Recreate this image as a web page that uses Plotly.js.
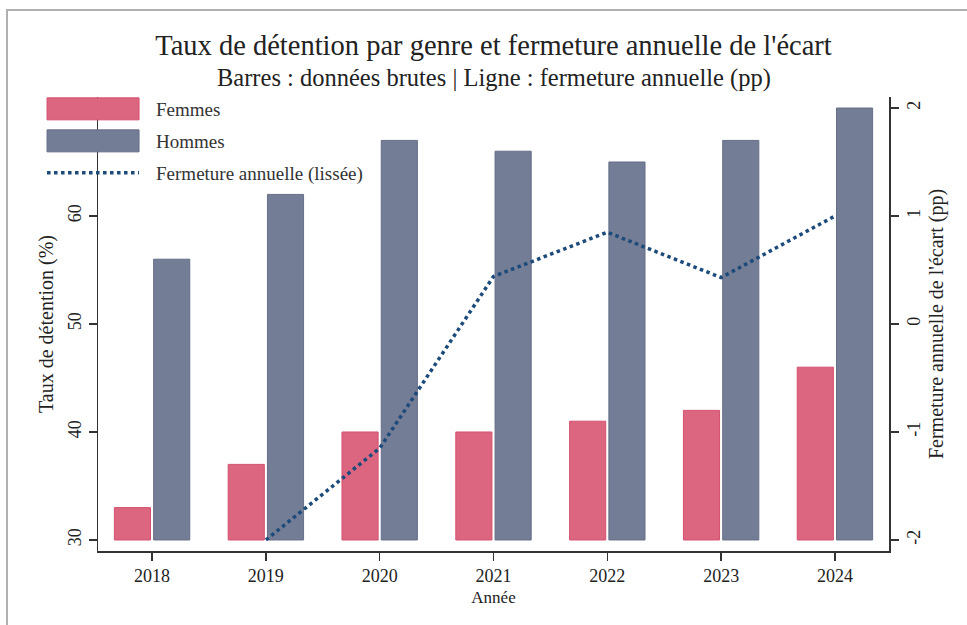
<!DOCTYPE html>
<html>
<head>
<meta charset="utf-8">
<script src="https://cdn.plot.ly/plotly-3.0.1.min.js"></script>
<style>
  html, body { margin: 0; padding: 0; background: #fff; }
  #frame { position: absolute; left: 6px; top: 9px; width: 961px; height: 616px;
           border-left: 2px solid #b0b0b0; border-top: 2px solid #b0b0b0; box-sizing: border-box; }
  #chart { position: absolute; left: 0; top: 0; width: 967px; height: 625px; }
</style>
</head>
<body>
<div id="frame"></div>
<div id="chart"></div>
<script>
const years = [2018, 2019, 2020, 2021, 2022, 2023, 2024];
const femmes = [33, 37, 40, 40, 41, 42, 46];
const hommes = [56, 62, 67, 66, 65, 67, 70];
const fermeture = [null, -2, -1.15, 0.44, 0.85, 0.43, 1.0];
const leftTicks = [30, 40, 50, 60];
const rightTicks = [-2, -1, 0, 1, 2];
const barBase = 30;

const serif = 'Liberation Serif, Times New Roman, serif';

const traces = [
  {
    type: 'bar', name: 'Femmes', x: years, legendgroup: 'a',
    y: femmes.map(v => v - barBase), base: barBase,
    marker: { color: '#dc6680', line: { color: '#d4506e', width: 1 } },
    yaxis: 'y', hoverinfo: 'skip'
  },
  {
    type: 'bar', name: 'Hommes', x: years, legendgroup: 'b',
    y: hommes.map(v => v - barBase), base: barBase,
    marker: { color: '#737d96', line: { color: '#666f88', width: 1 } },
    yaxis: 'y', hoverinfo: 'skip'
  },
  {
    type: 'scatter', mode: 'lines', name: 'Fermeture annuelle (lissée)', legendgroup: 'c',
    x: years, y: fermeture, yaxis: 'y2',
    line: { color: '#1c4a7a', width: 3.5, dash: 'dot' },
    connectgaps: false
  }
];

const layout = {
  width: 967, height: 625,
  margin: { l: 98, r: 78, t: 97, b: 74 },
  paper_bgcolor: 'rgba(0,0,0,0)', plot_bgcolor: 'rgba(0,0,0,0)',
  font: { family: serif, color: '#222', size: 18 },
  title: {
    text: "Taux de détention par genre et fermeture annuelle de l'écart",
    font: { family: serif, size: 28.5, color: '#222' },
    x: 0.5, xref: 'paper', xanchor: 'center', y: 1 - 45 / 625, yref: 'container', yanchor: 'middle'
  },
  annotations: [{
    text: 'Barres : données brutes | Ligne : fermeture annuelle (pp)',
    xref: 'paper', yref: 'paper', x: 0.5, y: (551 - 78) / 454,
    xanchor: 'center', yanchor: 'middle', showarrow: false,
    font: { family: serif, size: 24.5, color: '#222' }
  }],
  barmode: 'group', bargap: 0.31, bargroupgap: 0.08,
  showlegend: true,
  legend: {
    x: -0.0657, xanchor: 'left', y: 1.0154, yanchor: 'top',
    bgcolor: 'rgba(0,0,0,0)', font: { family: serif, size: 19, color: '#333' },
    itemwidth: 100, tracegroupgap: 11, traceorder: 'normal'
  },
  xaxis: {
    range: [2017.525, 2024.475], tickvals: years, ticktext: years.map(String),
    showline: true, linecolor: '#333', linewidth: 1.5, mirror: false,
    ticks: 'outside', ticklen: 8, tickcolor: '#333', tickwidth: 1.5,
    showgrid: false, zeroline: false, ticklabelstandoff: 0,
    tickfont: { family: serif, size: 18, color: '#222' },
    title: { text: 'Année', font: { family: serif, size: 17, color: '#222' }, standoff: 0 }
  },
  yaxis: {
    range: [28.98, 71.02], tickvals: leftTicks, ticktext: leftTicks.map(String),
    showline: true, linecolor: '#333', linewidth: 1.5,
    ticks: 'outside', ticklen: 8, tickcolor: '#333', tickwidth: 1.5,
    showgrid: false, zeroline: false, tickangle: 270, ticklabelstandoff: 0.5,
    tickfont: { family: serif, size: 18, color: '#222' },
    title: { text: 'Taux de détention (%)', font: { family: serif, size: 20, color: '#222' }, standoff: 6 }
  },
  yaxis2: {
    overlaying: 'y', side: 'right',
    range: [-2.102, 2.102], tickvals: rightTicks, ticktext: rightTicks.map(String),
    showline: true, linecolor: '#333', linewidth: 1.5,
    ticks: 'outside', ticklen: 8, tickcolor: '#333', tickwidth: 1.5,
    showgrid: false, zeroline: false, tickangle: -90,
    tickfont: { family: serif, size: 18, color: '#222' },
    title: { text: "Fermeture annuelle de l'écart (pp)", font: { family: serif, size: 20, color: '#222' }, standoff: 6 }
  }
};

Plotly.newPlot('chart', traces, layout, { staticPlot: true, displayModeBar: false }).then(function (gd) {
  // enlarge legend swatches to the wide blocks of the original
  gd.querySelectorAll('.legend .traces').forEach(function (g) {
    const txt = g.querySelector('text.legendtext');
    if (!txt) return;
    const tx = parseFloat(txt.getAttribute('x')) || 0;
    const cx = tx - 63;
    g.querySelectorAll('.legendpoints path').forEach(function (p) {
      p.setAttribute('d', 'M-46,-11H46V11H-46Z');
      p.setAttribute('transform', 'translate(' + cx + ',0)');
    });
    g.querySelectorAll('.legendlines path').forEach(function (p) {
      p.setAttribute('d', 'M' + (cx - 46) + ',0h92');
    });
  });
  // spread legend rows to the original 32px pitch
  const rows = Array.from(gd.querySelectorAll('.legend .traces'));
  if (rows.length > 1) {
    const y0 = rows[0].getBoundingClientRect().top;
    rows.forEach(function (g, i) {
      const cur = g.getBoundingClientRect().top;
      const want = y0 + i * 32;
      const d = want - cur;
      const t = g.getAttribute('transform') || '';
      g.setAttribute('transform', t + ' translate(0,' + d + ')');
    });
  }
  // place the x-axis title just under the tick labels, as in the original
  const xt = gd.querySelector('.g-xtitle text');
  if (xt) {
    const bb = xt.getBoundingClientRect();
    const d = 598 - (bb.top + bb.height / 2);
    xt.setAttribute('transform', 'translate(0,' + d + ')');
  }
});
</script>
</body>
</html>
